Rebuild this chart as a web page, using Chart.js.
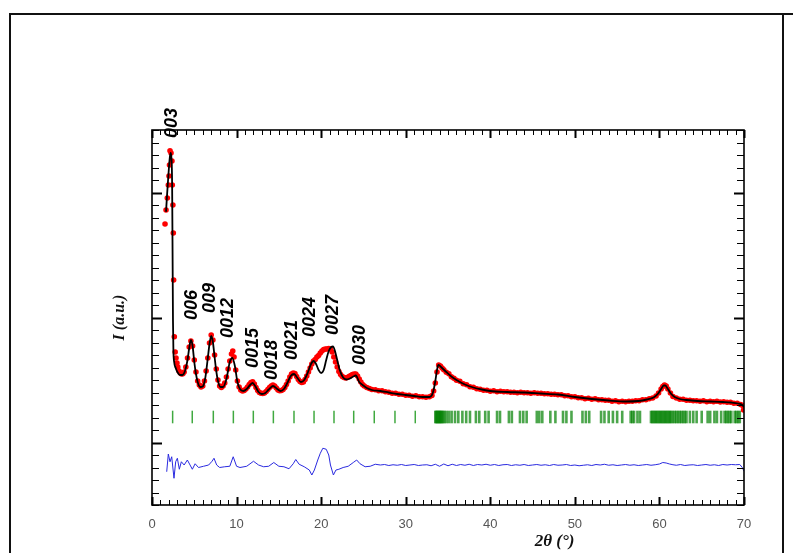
<!DOCTYPE html>
<html>
<head>
<meta charset="utf-8">
<style>
  html, body { margin: 0; padding: 0; background: #fff; }
  canvas { display: block; }
</style>
<script src="https://cdn.jsdelivr.net/npm/chart.js@4.4.1/dist/chart.umd.min.js"></script>
</head>
<body>
<canvas id="xrd" width="793" height="553"></canvas>
<script>
//  DATA  (2theta in degrees, intensity in arbitrary units)

// observed (red points)
var obsTheta = [
  1.54,1.66,1.81,1.93,2.01,2.07,2.13,2.25,2.36,2.40,
  2.47,2.52,2.56,2.64,2.74,2.84,2.95,3.05,3.2,3.35,
  3.5,3.65,3.8,4.0,4.2,4.4,4.6,4.8,5.0,5.2,
  5.4,5.6,5.8,6.0,6.2,6.4,6.6,6.8,7.0,7.2,
  7.4,7.6,7.8,8.0,8.2,8.4,8.6,8.8,9.0,9.2,
  9.4,9.55,9.7,9.9,10.1,10.3,10.5,10.7,10.9,11.1,
  11.3,11.5,11.7,11.9,12.1,12.3,12.5,12.7,12.9,13.1,
  13.3,13.5,13.7,13.9,14.1,14.3,14.5,14.7,14.9,15.1,
  15.3,15.5,15.7,15.9,16.1,16.3,16.5,16.7,16.9,17.1,
  17.3,17.5,17.7,17.9,18.1,18.3,18.5,18.7,18.9,19.1,
  19.3,19.5,19.7,19.9,20.1,20.3,20.5,20.7,20.9,21.1,
  21.3,21.5,21.7,21.9,22.1,22.3,22.5,22.7,22.9,23.1,
  23.3,23.5,23.7,23.9,24.1,24.3,24.5,24.7,24.9,25.1,
  25.4,25.7,26.0,26.4,26.8,27.2,27.6,28.0,28.4,28.8,
  29.2,29.6,30.0,30.4,30.8,31.2,31.6,32.0,32.4,32.8,
  33.1,33.3,33.5,33.7,33.9,34.1,34.3,34.5,34.8,35.1,
  35.4,35.7,36.0,36.4,36.8,37.2,37.6,38.0,38.4,38.8,
  39.2,39.6,40.0,40.4,40.8,41.2,41.6,42.0,42.4,42.8,
  43.2,43.6,44.0,44.4,44.8,45.2,45.6,46.0,46.4,46.8,
  47.2,47.6,48.0,48.4,48.8,49.2,49.6,50.0,50.4,50.8,
  51.2,51.6,52.0,52.4,52.8,53.2,53.6,54.0,54.4,54.8,
  55.2,55.6,56.0,56.4,56.8,57.2,57.6,58.0,58.4,58.8,
  59.2,59.6,59.9,60.2,60.4,60.6,60.8,61.0,61.3,61.6,
  62.0,62.4,62.8,63.2,63.6,64.0,64.4,64.8,65.2,65.6,
  66.0,66.4,66.8,67.2,67.6,68.0,68.4,68.8,69.2,69.6,
  69.85,69.95
];
var obsInt = [
  17.48,18.6,19.56,20.6,21.32,22.2,23.34,23.16,22.52,20.6,
  19.0,16.76,13.0,8.46,7.24,6.76,6.36,6.04,5.72,5.56,
  5.48,5.5,5.64,6.04,6.76,7.64,8.12,7.72,6.6,5.64,
  4.92,4.6,4.44,4.52,4.92,5.72,6.76,7.96,8.6,8.2,
  7.0,5.88,5.0,4.52,4.4,4.52,4.76,5.24,5.88,6.52,
  7.08,7.32,6.84,5.8,4.92,4.44,4.2,4.12,4.16,4.28,
  4.44,4.64,4.8,4.86,4.68,4.4,4.16,4.0,3.94,3.92,
  3.96,4.08,4.24,4.4,4.52,4.6,4.52,4.36,4.2,4.14,
  4.16,4.24,4.4,4.64,4.92,5.24,5.48,5.56,5.52,5.28,
  5.04,4.88,4.8,4.84,5.04,5.32,5.64,5.96,6.28,6.52,
  6.64,6.84,6.96,7.16,7.32,7.44,7.48,7.48,7.52,7.48,
  7.24,6.84,6.44,6.04,5.68,5.44,5.28,5.2,5.16,5.2,
  5.28,5.36,5.44,5.48,5.48,5.32,5.08,4.84,4.64,4.52,
  4.4,4.32,4.24,4.22,4.14,4.14,4.06,4.02,3.94,3.94,
  3.86,3.86,3.78,3.78,3.7,3.74,3.66,3.66,3.62,3.66,
  3.76,4.12,4.76,5.64,6.2,6.12,5.96,5.82,5.62,5.5,
  5.26,5.14,4.98,4.9,4.7,4.62,4.46,4.42,4.3,4.26,
  4.18,4.18,4.1,4.14,4.06,4.1,4.06,4.06,4.02,4.02,
  3.98,4.02,3.98,3.98,3.94,3.98,3.94,3.94,3.9,3.9,
  3.86,3.86,3.82,3.82,3.74,3.74,3.66,3.66,3.58,3.58,
  3.5,3.54,3.46,3.5,3.42,3.42,3.38,3.38,3.3,3.34,
  3.26,3.3,3.26,3.3,3.3,3.34,3.34,3.42,3.42,3.5,
  3.56,3.72,3.96,4.28,4.48,4.6,4.52,4.28,3.96,3.68,
  3.56,3.46,3.46,3.38,3.38,3.34,3.34,3.3,3.34,3.26,
  3.3,3.26,3.3,3.24,3.26,3.22,3.22,3.14,3.14,3.04,
  2.96,2.6
];

// calculated (black line)
var calcTheta = [
  1.66,1.78,1.9,2.0,2.1,2.2,2.3,2.38,2.43,2.48,
  2.53,2.62,2.8,3.0,3.3,3.6,3.9,4.2,4.4,4.6,
  4.8,5.0,5.2,5.4,5.7,6.0,6.3,6.6,6.8,7.0,
  7.2,7.4,7.6,7.8,8.1,8.4,8.8,9.2,9.5,9.8,
  10.1,10.4,10.8,11.2,11.6,11.9,12.2,12.6,13.0,13.4,
  13.8,14.3,14.8,15.2,15.6,16.0,16.4,16.8,17.2,17.6,
  18.0,18.4,18.8,19.1,19.4,19.7,20.0,20.3,20.6,20.9,
  21.2,21.4,21.6,21.9,22.2,22.6,23.0,23.4,23.8,24.1,
  24.5,24.9,25.4,26.0,27.0,28.0,29.0,30.0,31.0,32.0,
  32.8,33.1,33.3,33.5,33.7,33.85,34.0,34.3,34.8,35.4,
  36.0,37.0,38.0,39.0,40.0,42.0,44.0,46.0,48.0,50.0,
  52.0,54.0,56.0,57.5,58.5,59.3,59.8,60.2,60.5,60.7,
  61.0,61.4,61.8,62.4,63.2,64.5,66.0,67.5,68.5,69.3,
  69.8,70.0
];
var calcInt = [
  18.46,19.8,21.0,21.96,22.76,23.16,22.76,20.6,15.4,9.8,
  7.4,6.44,5.96,5.64,5.4,5.4,5.72,6.6,7.56,8.2,
  7.72,6.44,5.48,4.84,4.44,4.48,5.16,6.76,7.88,8.52,
  8.04,6.84,5.72,4.92,4.44,4.44,5.08,6.44,6.76,6.12,
  4.84,4.28,4.12,4.28,4.6,4.76,4.52,4.04,3.88,3.96,
  4.24,4.52,4.28,4.12,4.28,4.76,5.32,5.48,5.16,4.84,
  5.0,5.56,6.28,6.52,6.28,5.8,5.56,5.8,6.6,7.32,
  7.64,7.68,7.4,6.6,5.8,5.2,5.04,5.12,5.28,5.36,
  4.84,4.6,4.36,4.2,4.12,4.0,3.88,3.8,3.72,3.64,
  3.64,3.8,4.2,4.92,5.8,6.2,6.16,5.96,5.64,5.28,
  5.0,4.64,4.4,4.24,4.12,4.04,4.0,3.92,3.84,3.64,
  3.48,3.36,3.28,3.32,3.44,3.6,3.88,4.28,4.56,4.56,
  4.28,3.88,3.64,3.48,3.4,3.32,3.28,3.24,3.2,3.12,
  3.0,2.84
];

// difference (blue line)
var diffTheta = [
  1.74,1.93,2.13,2.33,2.6,2.8,3.0,3.23,3.47,3.8,
  4.18,4.5,4.77,5.1,5.5,6.1,6.7,7.1,7.33,7.65,
  8.0,8.6,9.2,9.6,10.0,10.4,11.2,12.0,12.6,13.2,
  13.8,14.4,15.0,15.6,16.2,16.7,17.0,17.4,18.0,18.6,
  18.9,19.2,19.6,19.9,20.2,20.6,20.9,21.1,21.45,21.75,
  22.1,22.6,23.2,23.8,24.2,24.6,25.2,25.8,26.4,27.0,
  27.5,28,28.5,29,29.5,30,30.5,31,31.5,32,
  32.5,33,33.5,34,34.5,35,35.5,36,36.5,37,
  37.5,38,38.5,39,39.5,40,40.5,41,41.5,42,
  42.5,43,43.5,44,44.5,45,45.5,46,46.5,47,
  47.5,48,48.5,49,49.5,50,50.5,51,51.5,52,
  52.5,53,53.5,54,54.5,55,55.5,56,56.5,57,
  57.5,58,58.5,59,59.5,60,60.4,60.8,61.2,61.6,
  62,62.5,63,63.5,64,64.5,65,65.5,66,66.5,
  67,67.5,68,68.5,69,69.5,69.8,70
];
var diffInt = [
  -2.34,-0.92,-1.54,-1.14,-2.86,-1.54,-1.26,-2.14,-1.54,-1.8,
  -1.4,-1.8,-2.14,-1.7,-2.0,-1.9,-1.8,-1.5,-1.26,-1.8,
  -2.0,-1.94,-1.9,-1.14,-1.9,-2.0,-1.9,-1.5,-1.8,-1.94,
  -1.9,-1.6,-1.9,-1.94,-2.1,-1.7,-1.36,-1.74,-1.94,-2.2,
  -2.6,-2.2,-1.4,-0.86,-0.46,-0.54,-1.0,-1.8,-2.6,-2.2,
  -2.14,-2.0,-1.9,-1.6,-1.4,-1.7,-1.94,-1.9,-1.74,-1.8,
  -1.76,-1.84,-1.78,-1.82,-1.76,-1.84,-1.8,-1.76,-1.84,-1.8,
  -1.78,-1.86,-1.74,-1.9,-1.72,-1.86,-1.74,-1.84,-1.76,-1.82,
  -1.74,-1.84,-1.76,-1.8,-1.74,-1.82,-1.76,-1.84,-1.78,-1.76,
  -1.84,-1.78,-1.82,-1.76,-1.84,-1.8,-1.76,-1.82,-1.78,-1.84,
  -1.76,-1.82,-1.8,-1.76,-1.84,-1.8,-1.86,-1.82,-1.78,-1.84,
  -1.76,-1.8,-1.74,-1.82,-1.78,-1.84,-1.8,-1.76,-1.82,-1.78,
  -1.84,-1.8,-1.76,-1.82,-1.78,-1.72,-1.6,-1.64,-1.72,-1.78,
  -1.82,-1.76,-1.84,-1.8,-1.78,-1.84,-1.8,-1.76,-1.82,-1.78,
  -1.84,-1.76,-1.8,-1.76,-1.78,-1.76,-2.0,-2.3
];

// bragg positions (green ticks)
var braggLow = [2.44,4.76,7.25,9.62,11.98,14.35,16.79,19.16,21.52,23.85,26.28,28.73,31.13];
var braggHigh = [
  33.5,33.6,33.7,33.8,33.9,34.0,34.1,34.2,34.3,34.45,34.6,34.84,35.12,35.43,35.83,
  36.22,36.7,37.15,37.6,38.3,38.7,39.4,39.8,40.8,41.15,42.2,42.55,43.51,43.9,44.3,
  45.5,45.8,46.15,47.1,47.7,48.6,49.0,49.6,50.9,51.3,51.7,53.1,53.5,54.0,54.5,
  55.0,55.6,56.6,56.8,57.0,57.4,57.7,59.0,59.15,59.3,59.45,59.6,59.75,59.9,60.05,
  60.2,60.35,60.5,60.65,60.8,60.95,61.1,61.25,61.4,61.6,61.8,62.0,62.2,62.4,62.6,
  62.8,63.0,63.2,63.6,64.0,64.4,65.0,65.7,66.0,66.5,66.8,67.3,67.7,67.9,68.1,
  68.3,68.5,68.9,69.1,69.3,69.5
];
var braggRow = 2.04;

// reflection labels
var hklLabels = ["003", "006", "009", "0012", "0015", "0018", "0021", "0024", "0027", "0030"];
var hklTheta = [2.36, 4.68, 6.86, 9.03, 11.98, 14.15, 16.5, 18.68, 21.44, 24.6];
var hklBase = [24.36, 9.8, 10.36, 8.36, 5.96, 5.0, 6.6, 8.44, 8.6, 6.2];

// axes
var xTickLabels = [0, 10, 20, 30, 40, 50, 60, 70];
var xMin = 0, xMax = 70;
var yMin = -5, yMax = 25;

//  HELPERS
function pairs(xs, ys) {
  var out = [];
  var n = Math.min(xs.length, ys.length);
  for (var i = 0; i < n; i++) out.push({ x: xs[i], y: ys[i] });
  return out;
}

function row(xs, y) {
  var out = [];
  for (var i = 0; i < xs.length; i++) out.push({ x: xs[i], y: y });
  return out;
}

//  DECORATION (frame, inward ticks, texts)
var decor = {
  id: "decor",
  beforeDraw: function (chart) {
    var ctx = chart.ctx;
    ctx.save();
    ctx.fillStyle = "#fff";
    ctx.fillRect(0, 0, chart.width, chart.height);
    ctx.strokeStyle = "#111";
    ctx.lineWidth = 2;
    ctx.beginPath();
    ctx.moveTo(10, chart.height + 5);
    ctx.lineTo(10, 14);
    ctx.lineTo(chart.width + 5, 14);
    ctx.moveTo(783, 14);
    ctx.lineTo(783, chart.height + 5);
    ctx.stroke();
    ctx.restore();
  },
  afterDatasetsDraw: function (chart) {
    var ctx = chart.ctx;
    var a = chart.chartArea;
    var xs = chart.scales.x;
    var ys = chart.scales.y;
    ctx.save();
    ctx.strokeStyle = "#000";

    // x ticks, bottom and top
    for (var t = xMin; t <= xMax; t++) {
      var px = Math.round(xs.getPixelForValue(t)) + 0.5;
      var major = t % 10 === 0;
      var len = major ? 8 : 5;
      ctx.lineWidth = major ? 2 : 1;
      ctx.beginPath();
      ctx.moveTo(px, a.bottom);
      ctx.lineTo(px, a.bottom - len);
      ctx.moveTo(px, a.top);
      ctx.lineTo(px, a.top + len);
      ctx.stroke();
    }

    // y ticks, left and right
    for (var v = yMin; v <= yMax; v++) {
      var py = Math.round(ys.getPixelForValue(v)) + 0.5;
      var majorY = v % 10 === 0;
      var lenY = majorY ? 10 : 7;
      ctx.lineWidth = majorY ? 2 : 1.2;
      ctx.beginPath();
      ctx.moveTo(a.left, py);
      ctx.lineTo(a.left + lenY, py);
      ctx.moveTo(a.right, py);
      ctx.lineTo(a.right - lenY, py);
      ctx.stroke();
    }

    // plot frame
    ctx.lineWidth = 1.6;
    ctx.strokeRect(a.left, a.top, a.right - a.left, a.bottom - a.top);

    // x tick labels
    ctx.fillStyle = "#555";
    ctx.font = "13px 'Liberation Sans', Arial, sans-serif";
    ctx.textAlign = "center";
    ctx.textBaseline = "middle";
    for (var i = 0; i < xTickLabels.length; i++) {
      ctx.fillText(String(xTickLabels[i]), xs.getPixelForValue(xTickLabels[i]), a.bottom + 19);
    }

    // axis titles
    ctx.fillStyle = "#111";
    ctx.font = "bold italic 17px 'Liberation Serif', 'Times New Roman', serif";
    ctx.fillText("2\u03b8 (\u00b0)", a.left + (a.right - a.left) * 0.68, a.bottom + 37);

    ctx.save();
    ctx.translate(a.left - 32, (a.top + a.bottom) / 2);
    ctx.rotate(-Math.PI / 2);
    ctx.font = "bold italic 16px 'Liberation Serif', 'Times New Roman', serif";
    ctx.fillText("I (a.u.)", 0, 0);
    ctx.restore();

    // reflection labels
    ctx.fillStyle = "#000";
    ctx.font = "bold italic 18px 'Liberation Sans', Arial, sans-serif";
    ctx.textAlign = "left";
    for (var j = 0; j < hklLabels.length; j++) {
      ctx.save();
      ctx.translate(xs.getPixelForValue(hklTheta[j]), ys.getPixelForValue(hklBase[j]));
      ctx.rotate(-Math.PI / 2);
      ctx.fillText(hklLabels[j], 0, 0);
      ctx.restore();
    }
    ctx.restore();
  }
};

//  CHART
var chart = new Chart(document.getElementById("xrd"), {
  type: "scatter",
  data: {
    datasets: [
      {
        label: "calc",
        data: pairs(calcTheta, calcInt),
        showLine: true,
        borderColor: "#000",
        borderWidth: 1.8,
        pointRadius: 0,
        cubicInterpolationMode: "monotone",
      },
      {
        label: "obs",
        data: pairs(obsTheta, obsInt),
        showLine: false,
        pointRadius: 2.8,
        pointBackgroundColor: "#f00",
        pointBorderWidth: 0,
      },
      {
        label: "diff",
        data: pairs(diffTheta, diffInt),
        showLine: true,
        borderColor: "#2a2ae0",
        borderWidth: 1,
        pointRadius: 0,
      },
      {
        label: "bragg",
        data: row(braggLow, braggRow),
        showLine: false,
        pointStyle: "line",
        rotation: 90,
        pointRadius: 6.3,
        pointBorderWidth: 1.5,
        pointBorderColor: "rgba(0,140,0,0.75)",
      },
      {
        label: "bragg2",
        data: row(braggHigh, braggRow),
        showLine: false,
        pointStyle: "line",
        rotation: 90,
        pointRadius: 6.3,
        pointBorderWidth: 2.6,
        pointBorderColor: "rgba(0,128,0,0.7)",
      },
    ],
  },
  options: {
    responsive: false,
    animation: false,
    events: [],
    layout: { padding: { left: 152, top: 130, right: 49, bottom: 48 } },
    plugins: { legend: { display: false }, tooltip: { enabled: false } },
    scales: {
      x: { type: "linear", min: xMin, max: xMax, display: false },
      y: { type: "linear", min: yMin, max: yMax, display: false },
    },
  },
  plugins: [decor],
});
</script>
</body>
</html>
